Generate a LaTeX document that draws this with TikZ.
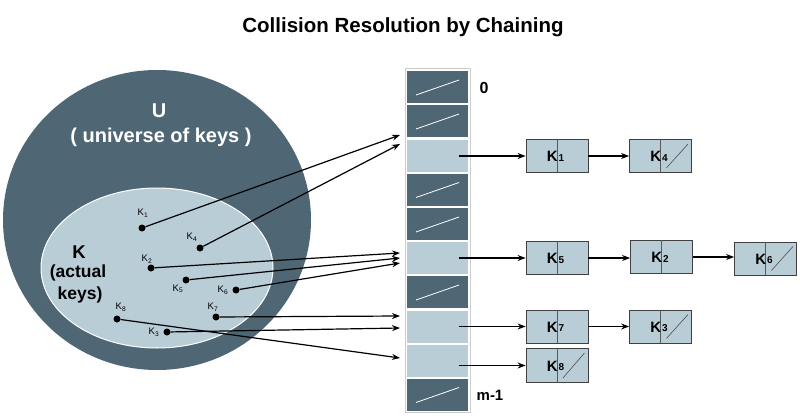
\documentclass[tikz,border=0pt]{standalone}
\usepackage{fontspec}
\setmainfont{Liberation Sans}
\usetikzlibrary{arrows.meta}
\definecolor{slate}{RGB}{79,102,116}
\definecolor{pale}{RGB}{185,205,215}
\begin{document}
\begin{tikzpicture}[x=1pt,y=-1pt,
  arr/.style={-{Stealth[length=8pt,width=6pt]}, line width=1.2pt, black},
  keydot/.style={circle, fill=black, inner sep=0pt, minimum size=7pt},
  klab/.style={inner sep=0pt, font=\fontsize{9.5}{9.5}\selectfont},
  cell/.style={draw=white, line width=1pt, minimum width=62pt, minimum height=33pt, inner sep=0pt},
  dcell/.style={cell, fill=slate},
  lcell/.style={cell, fill=pale},
  cslash/.style={white, line width=0.8pt},
  kbox/.style={draw=black!75, line width=0.8pt, fill=pale, minimum width=62pt, minimum height=33pt, inner sep=0pt},
  kdiv/.style={draw=black!65, line width=0.6pt},
  kbig/.style={anchor=base east, inner sep=0pt, font=\fontsize{15}{15}\selectfont\bfseries},
  ksub/.style={anchor=base west, inner sep=0pt, font=\fontsize{10}{10}\selectfont\bfseries},
  nslash/.style={black!70, line width=0.6pt},
  btext/.style={inner sep=0pt, font=\fontsize{15}{15}\selectfont\bfseries},
  wtext/.style={inner sep=0pt, white, font=\fontsize{20}{20}\selectfont\bfseries},
]
\useasboundingbox (0,0) rectangle (800,420);

% title
\node[inner sep=0pt, font=\fontsize{20.5}{20.5}\selectfont\bfseries] (title) at (403,27) {Collision Resolution by Chaining};

% universe and key set
\fill[slate] (157,220) ellipse [x radius=154, y radius=150];
\filldraw[fill=pale, draw=white, line width=1pt] (157,268) ellipse [x radius=116, y radius=80];
\node[wtext] (U) at (159,111) {U};
\node[wtext] (Ut) at (161,137) {( universe of keys )};
\node[btext, font=\fontsize{18.5}{18.5}\selectfont\bfseries] (K) at (79,252) {K};
\node[btext, font=\fontsize{17.5}{17.5}\selectfont\bfseries] (Ka) at (78,273) {(actual};
\node[btext, font=\fontsize{17.5}{17.5}\selectfont\bfseries] (Kk) at (80,295) {keys)};

% keys
\node[keydot] (k1) at (142,228) {};
\node[keydot] (k4) at (200,248) {};
\node[keydot] (k2) at (151,268) {};
\node[keydot] (k5) at (186,280) {};
\node[keydot] (k6) at (236,290) {};
\node[keydot] (k7) at (216,317) {};
\node[keydot] (k8) at (117,319) {};
\node[keydot] (k3) at (167,332) {};
\node[klab] (l1) at (143,213) {K\textsubscript{1}};
\node[klab] (l4) at (192,237) {K\textsubscript{4}};
\node[klab] (l2) at (147,259) {K\textsubscript{2}};
\node[klab] (l5) at (178,289) {K\textsubscript{5}};
\node[klab] (l6) at (223,290) {K\textsubscript{6}};
\node[klab] (l7) at (213,307) {K\textsubscript{7}};
\node[klab] (l8) at (121,307) {K\textsubscript{8}};
\node[klab] (l3) at (154,332) {K\textsubscript{3}};

% table
\draw[black!20, line width=0.6pt] (405,68) rectangle (470,412);
\node[dcell] (c0) at (437.5,87) {};
\node[dcell] (c1) at (437.5,121) {};
\node[lcell] (c2) at (437.5,155.5) {};
\node[dcell] (c3) at (437.5,189.5) {};
\node[dcell] (c4) at (437.5,224) {};
\node[lcell] (c5) at (437.5,258) {};
\node[dcell] (c6) at (437.5,292) {};
\node[lcell] (c7) at (437.5,326.5) {};
\node[lcell] (c8) at (437.5,360.5) {};
\node[dcell] (c9) at (437.5,394.5) {};
\foreach \c in {c0,c1,c3,c4,c6,c9}
  \draw[cslash] ([shift={(10,-9)}]\c.south west) -- ([shift={(-10,10)}]\c.north east);
\node[btext, font=\fontsize{16}{16}\selectfont\bfseries] (i0) at (484,88) {0};
\node[btext] (i9) at (490,395) {m-1};

% arrow end points at the table
\coordinate (e1) at (400,135);
\coordinate (e4) at (400,144);
\coordinate (e2) at (400,253);
\coordinate (e5) at (400,258);
\coordinate (e6) at (400,263);
\coordinate (e7) at (400,316);
\coordinate (e3) at (400,328);
\coordinate (e8) at (400,358);
\draw[arr] (k1) -- (e1);
\draw[arr] (k4) -- (e4);
\draw[arr] (k2) -- (e2);
\draw[arr] (k5) -- (e5);
\draw[arr] (k6) -- (e6);
\draw[arr] (k7) -- (e7);
\draw[arr] (k3) -- (e3);
\draw[arr] (k8) -- (e8);

% chains
\node[kbox] (b1) at (557,156) {};
\node[kbox] (b4) at (660.5,156) {};
\node[kbox] (b5) at (557,258) {};
\node[kbox] (b2) at (661.5,257) {};
\node[kbox] (b6) at (765.5,258.5) {};
\node[kbox] (b7) at (557,326.5) {};
\node[kbox] (b3) at (660.5,326.5) {};
\node[kbox, minimum height=34pt] (b8) at (557,365.5) {};
\foreach \b/\d in {b1/1,b4/4,b5/5,b2/2,b6/6,b7/7,b3/3,b8/8} {
  \draw[kdiv] (\b.north) -- (\b.south);
  \node[kbig] (\b k) at ([xshift=1pt,yshift=-5.5pt]\b.center) {K};
  \node[ksub] (\b d) at ([xshift=1.5pt,yshift=-5pt]\b.center) {\d};
}
\foreach \b in {b4,b6,b3,b8}
  \draw[nslash] ([shift={(6,-5)}]\b.south) -- ([shift={(-4,5)}]\b.north east);

\draw[arr] (c2.east |- b1.west) ++(-10,0) -- (b1.west);
\draw[arr] (c5.east |- b5.west) ++(-10,0) -- (b5.west);
\draw[arr] (c7.east |- b7.west) ++(-10,0) -- (b7.west);
\draw[arr] (c8.east |- b8.west) ++(-10,0) -- (b8.west);
\draw[arr] (b1) -- (b4);
\draw[arr] (b5.east) -- (b5.east -| b2.west);
\draw[arr] (b2.east) -- (b2.east -| b6.west);
\draw[arr] (b7) -- (b3);
\end{tikzpicture}
\end{document}
